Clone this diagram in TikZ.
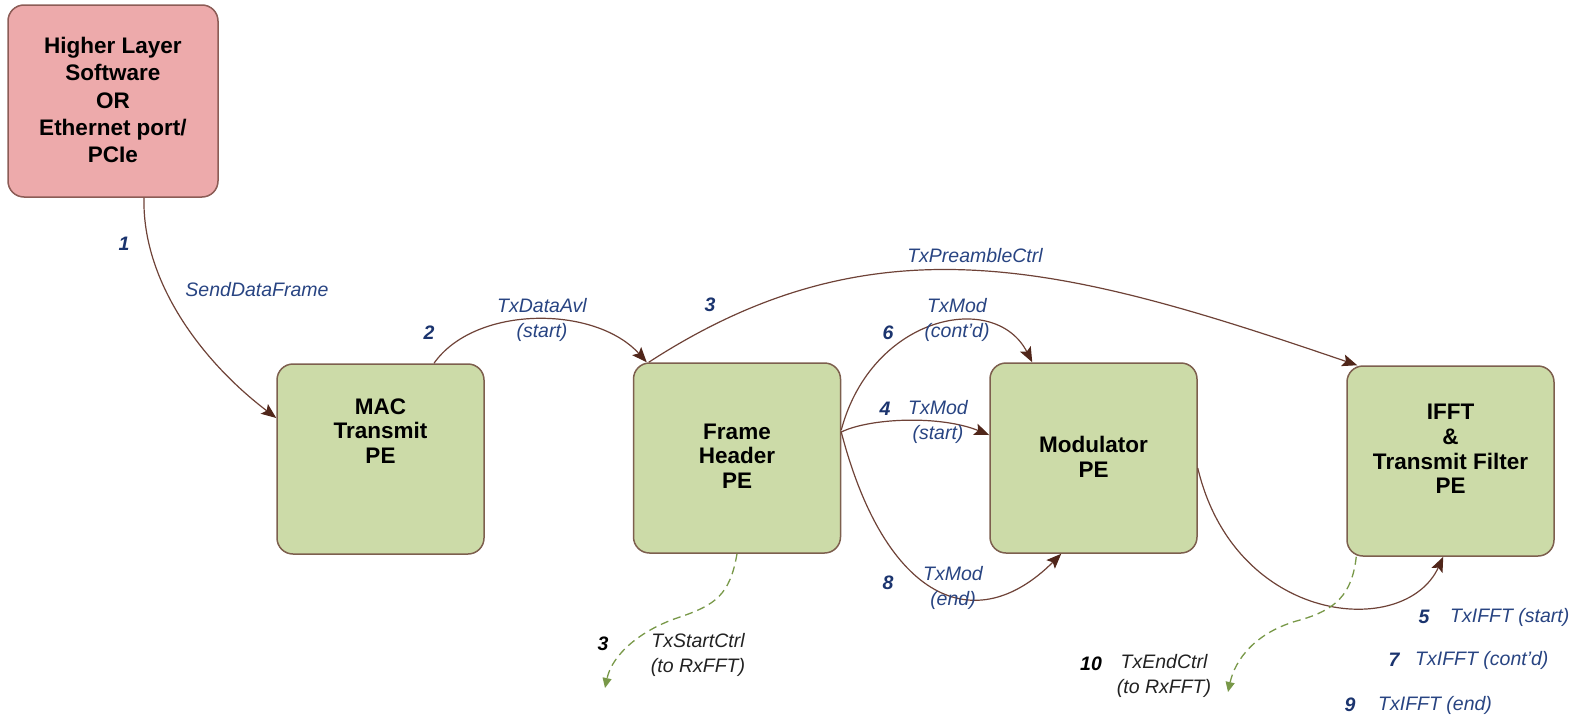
\documentclass[tikz,border=0pt]{standalone}
\usepackage{fontspec}
\setmainfont{Liberation Sans}
\usetikzlibrary{arrows.meta}
\definecolor{pinkfill}{RGB}{237,170,171}
\definecolor{pinkedge}{RGB}{140,92,86}
\definecolor{greenfill}{RGB}{204,219,168}
\definecolor{greenedge}{RGB}{125,95,78}
\definecolor{lblblue}{RGB}{40,68,130}
\definecolor{numblue}{RGB}{27,52,110}
\definecolor{flowbrown}{RGB}{110,66,55}
\definecolor{tipbrown}{RGB}{80,38,26}
\definecolor{dashgreen}{RGB}{120,152,72}
\definecolor{ctrltext}{RGB}{34,34,34}
\begin{document}
\begin{tikzpicture}[x=1pt,y=-1pt,
  box/.style={draw=greenedge, fill=greenfill, line width=1.5pt, rounded corners=16pt,
    minimum width=207pt, minimum height=190pt, inner sep=0pt},
  boxtext/.style={font=\fontsize{22.5}{24.7}\selectfont\bfseries, align=center, inner sep=0pt},
  lbl/.style={font=\fontsize{19.5}{24.5}\selectfont\itshape, text=lblblue, align=center, inner sep=0pt},
  num/.style={font=\fontsize{19.5}{24.5}\selectfont\bfseries\itshape, text=numblue, inner sep=0pt},
  clbl/.style={lbl, text=ctrltext},
  cnum/.style={num, text=black},
  flow/.style={draw=flowbrown, line width=1.2pt, -{Stealth[length=15pt,width=12pt,inset=3pt,color=tipbrown]}},
  ctrl/.style={draw=dashgreen, line width=1.3pt, dash pattern=on 8pt off 5pt,
    -{Triangle[length=10pt,width=9pt,color=dashgreen]}},
]
\useasboundingbox (0,0) rectangle (1582,715);

% boxes
\node[box, draw=pinkedge, fill=pinkfill, minimum width=210pt, minimum height=192pt] (pink) at (113,101) {};
\node[boxtext, font=\fontsize{22.5}{27.4}\selectfont\bfseries] (pinktext) at (113,100) {Higher Layer\\Software\\OR\\Ethernet port/\\PCIe};
\node[box] (mac) at (380.5,459) {};
\node[boxtext] (mactext) at (380.5,431) {MAC\\Transmit\\PE};
\node[box] (fh) at (737,458) {};
\node[boxtext] (fhtext) at (737,456) {Frame\\Header\\PE};
\node[box] (mod) at (1093.5,458) {};
\node[boxtext] (modtext) at (1093.5,457) {Modulator\\PE};
\node[box] (ifft) at (1450.5,461) {};
\node[boxtext] (iffttext) at (1450.5,449) {IFFT\\\&\\Transmit Filter\\PE};

% free ends of the control arrows
\coordinate (rx1) at (605,688);
\coordinate (rx2) at (1228,692);

% connectors
\draw[flow] ([xshift=31pt]pink.south) .. controls (142,280) and (200,360) .. ([yshift=41pt]mac.west);
\draw[flow] ([xshift=53.5pt]mac.north) .. controls (475,305) and (595,305) .. ([xshift=14pt]fh.north west);
\draw[flow] ([xshift=16pt]fh.north west) .. controls (877,214) and (1067,266) .. ([xshift=11pt]ifft.north west);
\draw[flow] ([yshift=28pt]fh.east) .. controls (872,315) and (995,290) .. ([xshift=43pt]mod.north west);
\draw[flow] ([yshift=26pt]fh.east) .. controls (870,418) and (940,415) .. ([yshift=23pt]mod.west);
\draw[flow] ([yshift=26pt]fh.east) .. controls (885,600) and (975,640) .. ([xshift=72pt]mod.south west);
\draw[flow] ([yshift=-10pt]mod.east) .. controls (1235,625) and (1405,640) .. ([xshift=97pt]ifft.south west);
\draw[ctrl] (fh.south) .. controls (730,595) and (715,605) .. (680,617) .. controls (640,630) and (612,655) .. (rx1);
\draw[ctrl] ([xshift=10pt]ifft.south west) .. controls (1352,595) and (1335,610) .. (1300,620) .. controls (1255,632) and (1235,660) .. (rx2);

% labels
\node[num] (n1) at (124,244) {1};
\node[lbl] (l1) at (257,290) {SendDataFrame};
\node[num] (n2) at (429,333) {2};
\node[lbl] (l2) at (542,320) {TxDataAvl\\(start)};
\node[num] (n3) at (710,305) {3};
\node[lbl] (l3) at (975,256) {TxPreambleCtrl};
\node[num] (n6) at (888,333) {6};
\node[lbl] (l6) at (957,320) {TxMod\\(cont'd)};
\node[num] (n4) at (885,409) {4};
\node[lbl] (l4) at (938,422) {TxMod\\(start)};
\node[num] (n8) at (888,583) {8};
\node[lbl] (l8) at (953,588) {TxMod\\(end)};
\node[cnum] (n3b) at (603,644) {3};
\node[clbl] (l3b) at (698,655) {TxStartCtrl\\(to RxFFT)};
\node[cnum] (n10) at (1091,664) {10};
\node[clbl] (l10) at (1164,676) {TxEndCtrl\\(to RxFFT)};
\node[num] (n5) at (1424,617) {5};
\node[lbl, anchor=west] (l5) at (1450,617) {TxIFFT (start)};
\node[num] (n7) at (1394,660) {7};
\node[lbl, anchor=west] (l7) at (1415,660) {TxIFFT (cont'd)};
\node[num] (n9) at (1350,705) {9};
\node[lbl, anchor=west] (l9) at (1378,705) {TxIFFT (end)};
\end{tikzpicture}
\end{document}
